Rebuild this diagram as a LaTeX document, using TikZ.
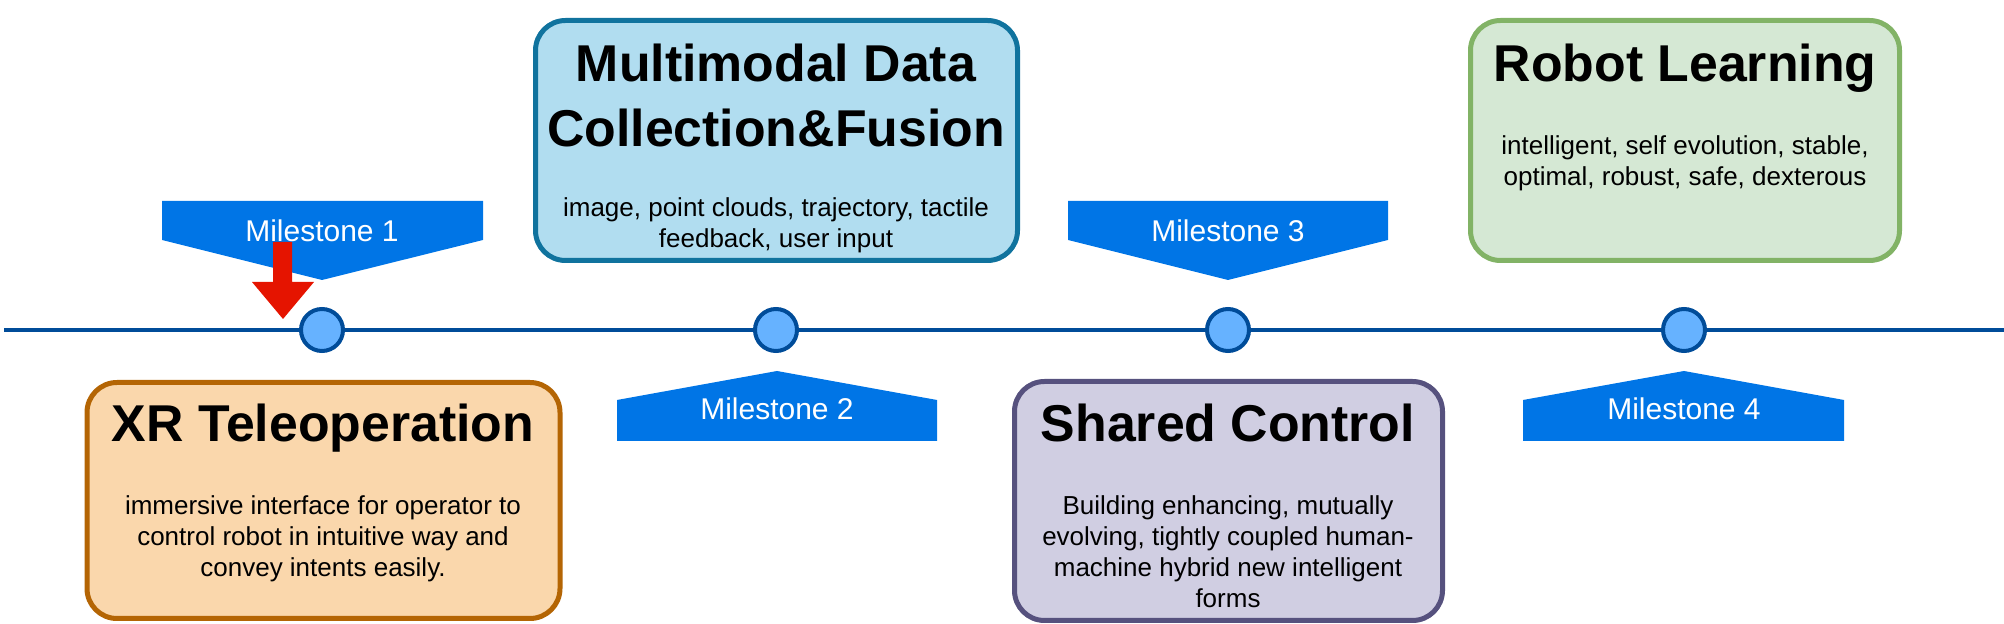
\documentclass[tikz,border=0pt]{standalone}
\usepackage{fontspec}
\setmainfont{Liberation Sans}
\definecolor{orfill}{HTML}{FAD7AC}
\definecolor{ordraw}{HTML}{B46504}
\definecolor{blfill}{HTML}{B1DDF0}
\definecolor{bldraw}{HTML}{10739E}
\definecolor{pufill}{HTML}{D0CEE2}
\definecolor{pudraw}{HTML}{56517E}
\definecolor{grfill}{HTML}{D5E8D4}
\definecolor{grdraw}{HTML}{82B366}
\definecolor{msblue}{HTML}{0075E6}
\definecolor{tlblue}{HTML}{004C99}
\definecolor{dotfill}{HTML}{66B2FF}
\definecolor{arrred}{HTML}{E51400}
\newcommand\ttlf{\fontsize{25.9}{32.5}\selectfont\bfseries}
\newcommand\bodyf{\fontsize{13}{15.5}\selectfont}
\newcommand\msf{\fontsize{15}{18}\selectfont}
\tikzset{
  phase/.style={draw, rounded corners=15pt, line width=2.5pt, inner sep=0pt, outer sep=0pt},
  txt/.style={anchor=base, inner sep=0pt, outer sep=0pt},
  dot/.style={circle, draw=tlblue, fill=dotfill, line width=2pt, minimum size=21pt, inner sep=0pt},
  mspoly/.style={fill=msblue, draw=none},
  mstext/.style={anchor=base, inner sep=0pt, text=white, font=\msf},
}
\begin{document}
\begin{tikzpicture}[x=0.5pt,y=-0.5pt]
\useasboundingbox (0,0) rectangle (2004,624);

% timeline
\coordinate (tlstart) at (4,330);
\coordinate (tlend) at (2004,330);
\draw[tlblue, line width=2pt] (tlstart) -- (tlend);

% milestone markers
\node[dot] (d1) at (322,330) {};
\node[dot] (d2) at (776,330) {};
\node[dot] (d3) at (1228,330) {};
\node[dot] (d4) at (1684,330) {};

% milestone banners
\fill[mspoly] (162,201) -- (483,201) -- (483,240) -- (322,280) -- (162,240) -- cycle;
\node[mstext] (ms1) at (322,242) {Milestone 1};
\fill[mspoly] (1068,201) -- (1388,201) -- (1388,240) -- (1228,280) -- (1068,240) -- cycle;
\node[mstext] (ms3) at (1228,242) {Milestone 3};
\fill[mspoly] (617,441) -- (937,441) -- (937,400) -- (777,371) -- (617,400) -- cycle;
\node[mstext] (ms2) at (777,420) {Milestone 2};
\fill[mspoly] (1523,441) -- (1844,441) -- (1844,400) -- (1684,371) -- (1523,400) -- cycle;
\node[mstext] (ms4) at (1684,420) {Milestone 4};

% red arrow
\fill[arrred] (273,242) -- (292,242) -- (292,282) -- (314,282) -- (283,319) -- (252,282) -- (273,282) -- cycle;

% phase boxes
\node[phase, draw=ordraw, fill=orfill, minimum width=236.5pt, minimum height=118pt] (xr) at (323.5,500.5) {};
\node[phase, draw=bldraw, fill=blfill, minimum width=241pt, minimum height=120pt] (mm) at (776.5,140.5) {};
\node[phase, draw=pudraw, fill=pufill, minimum width=214pt, minimum height=119.5pt] (sc) at (1228.5,501) {};
\node[phase, draw=grdraw, fill=grfill, minimum width=214.5pt, minimum height=120pt] (rl) at (1685,140.5) {};

% texts
\node[txt] (xrt) at (323,442) {\ttlf XR Teleoperation};
\node[txt] (xrb) at (323,515) {\parbox[t]{230pt}{\centering\bodyf immersive interface for operator to\\control robot in intuitive way and\\convey intents easily.}};

\node[txt] (mmt) at (776,82) {\parbox[t]{240pt}{\centering\ttlf Multimodal Data\\Collection\&Fusion}};
\node[txt] (mmb) at (776,217) {\parbox[t]{236pt}{\centering\bodyf image, point clouds, trajectory, tactile\\feedback, user input}};

\node[txt] (sct) at (1228,442) {\ttlf Shared Control};
\node[txt] (scb) at (1228,515) {\parbox[t]{210pt}{\centering\bodyf Building enhancing, mutually\\evolving, tightly coupled human-\\machine hybrid new intelligent\\forms}};

\node[txt] (rlt) at (1685,82) {\ttlf Robot Learning};
\node[txt] (rlb) at (1685,155) {\parbox[t]{210pt}{\centering\bodyf intelligent, self evolution, stable,\\optimal, robust, safe, dexterous}};
\end{tikzpicture}
\end{document}
